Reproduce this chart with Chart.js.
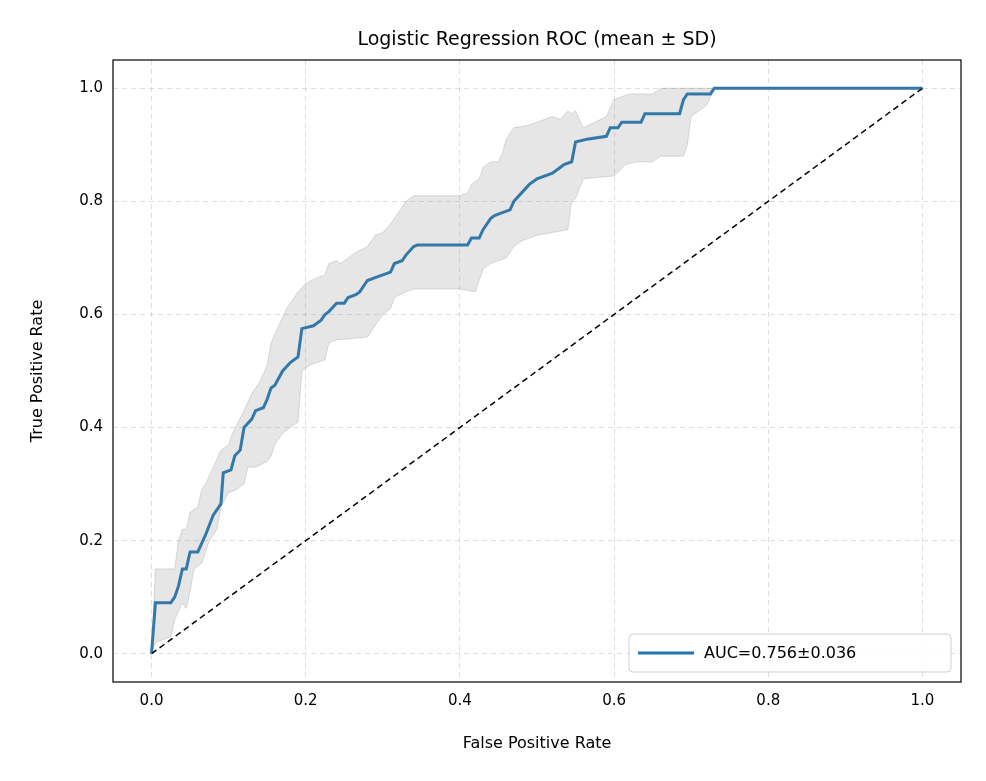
<!DOCTYPE html>
<html>
<head>
<meta charset="utf-8">
<script src="https://cdn.jsdelivr.net/npm/chart.js@4"></script>
<style>
  body { margin: 0; background: #fff; }
  #wrap { width: 986px; height: 781px; }
</style>
</head>
<body>
<div id="wrap"><canvas id="roc"></canvas></div>
<script>
'use strict';

const tickValues = [0, 0.2, 0.4, 0.6, 0.8, 1.0];
const legendLabel = 'AUC=0.756\u00b10.036';

const meanFpr = [0, 0.005, 0.025, 0.03, 0.035, 0.04, 0.045, 0.05, 0.06, 0.07, 0.08, 0.09, 0.093, 0.103, 0.108, 0.115, 0.12, 0.13, 0.135, 0.145, 0.15, 0.155, 0.16, 0.17, 0.18, 0.19, 0.195, 0.21, 0.22, 0.225, 0.23, 0.24, 0.25, 0.255, 0.265, 0.27, 0.28, 0.29, 0.31, 0.315, 0.325, 0.33, 0.34, 0.345, 0.41, 0.415, 0.425, 0.43, 0.435, 0.44, 0.445, 0.455, 0.465, 0.47, 0.48, 0.49, 0.5, 0.52, 0.53, 0.535, 0.545, 0.55, 0.565, 0.59, 0.595, 0.605, 0.61, 0.635, 0.64, 0.685, 0.69, 0.695, 0.725, 0.73, 1];
const meanTpr = [0, 0.09, 0.09, 0.1, 0.12, 0.15, 0.15, 0.18, 0.18, 0.21, 0.245, 0.265, 0.32, 0.325, 0.35, 0.36, 0.4, 0.415, 0.43, 0.435, 0.45, 0.47, 0.475, 0.5, 0.515, 0.525, 0.575, 0.58, 0.59, 0.6, 0.605, 0.62, 0.62, 0.63, 0.635, 0.64, 0.66, 0.665, 0.675, 0.69, 0.695, 0.705, 0.72, 0.723, 0.723, 0.735, 0.735, 0.75, 0.76, 0.77, 0.775, 0.78, 0.785, 0.8, 0.815, 0.83, 0.84, 0.85, 0.86, 0.865, 0.87, 0.905, 0.91, 0.915, 0.93, 0.93, 0.94, 0.94, 0.955, 0.955, 0.98, 0.99, 0.99, 1.0, 1];

const upperFpr = [0, 0.005, 0.03, 0.035, 0.04, 0.045, 0.05, 0.06, 0.065, 0.07, 0.08, 0.09, 0.1, 0.105, 0.12, 0.13, 0.14, 0.15, 0.155, 0.165, 0.175, 0.19, 0.2, 0.215, 0.225, 0.23, 0.24, 0.245, 0.255, 0.265, 0.28, 0.29, 0.3, 0.31, 0.32, 0.33, 0.34, 0.4, 0.41, 0.415, 0.425, 0.43, 0.435, 0.44, 0.45, 0.455, 0.46, 0.47, 0.49, 0.52, 0.53, 0.54, 0.545, 0.55, 0.56, 0.59, 0.6, 0.62, 0.65, 0.66, 1];
const upperTpr = [0, 0.15, 0.15, 0.2, 0.22, 0.22, 0.25, 0.26, 0.29, 0.3, 0.33, 0.36, 0.37, 0.39, 0.43, 0.46, 0.48, 0.51, 0.55, 0.58, 0.61, 0.64, 0.655, 0.665, 0.67, 0.69, 0.695, 0.69, 0.7, 0.71, 0.72, 0.74, 0.745, 0.76, 0.78, 0.8, 0.81, 0.81, 0.815, 0.83, 0.84, 0.86, 0.865, 0.87, 0.87, 0.885, 0.91, 0.93, 0.935, 0.95, 0.945, 0.96, 0.955, 0.96, 0.93, 0.95, 0.98, 0.99, 0.99, 1.0, 1];

const lowerFpr = [0, 0.005, 0.025, 0.03, 0.04, 0.045, 0.05, 0.055, 0.065, 0.075, 0.085, 0.09, 0.1, 0.11, 0.12, 0.125, 0.135, 0.15, 0.155, 0.16, 0.17, 0.18, 0.19, 0.195, 0.205, 0.225, 0.23, 0.24, 0.28, 0.29, 0.3, 0.31, 0.315, 0.33, 0.34, 0.4, 0.42, 0.425, 0.43, 0.44, 0.46, 0.47, 0.48, 0.5, 0.54, 0.545, 0.55, 0.56, 0.6, 0.615, 0.63, 0.65, 0.66, 0.69, 0.695, 0.7, 0.72, 0.73, 1];
const lowerTpr = [0, 0.02, 0.03, 0.06, 0.09, 0.08, 0.11, 0.15, 0.16, 0.2, 0.22, 0.26, 0.285, 0.29, 0.3, 0.33, 0.33, 0.34, 0.35, 0.37, 0.39, 0.4, 0.41, 0.5, 0.51, 0.52, 0.55, 0.555, 0.56, 0.58, 0.6, 0.61, 0.63, 0.64, 0.645, 0.645, 0.64, 0.66, 0.68, 0.69, 0.7, 0.72, 0.73, 0.74, 0.75, 0.8, 0.805, 0.84, 0.845, 0.865, 0.87, 0.87, 0.88, 0.88, 0.9, 0.95, 0.97, 1.0, 1];

function toPoints(xs, ys) {
  return xs.map((x, i) => ({ x: x, y: ys[i] }));
}

// band polygon: upper edge forward, lower edge back
const bandPoints = toPoints(upperFpr, upperTpr).concat(toPoints(lowerFpr, lowerTpr).reverse());

const font = 'DejaVu Sans';

const frameAndText = {
  id: 'frameAndText',
  afterDraw(chart) {
    const { ctx, chartArea: a } = chart;
    ctx.save();
    ctx.strokeStyle = '#000';
    ctx.lineWidth = 1.2;
    ctx.strokeRect(a.left, a.top, a.right - a.left, a.bottom - a.top);

    // legend
    ctx.font = '16px ' + font;
    const w = 322, h = 38;
    const x = a.right - 10 - w, y = a.bottom - 10 - h;
    ctx.fillStyle = 'rgba(255,255,255,0.8)';
    ctx.strokeStyle = '#d0d0d0';
    ctx.lineWidth = 1;
    ctx.beginPath();
    ctx.roundRect(x, y, w, h, 4);
    ctx.fill();
    ctx.stroke();
    ctx.strokeStyle = '#1f77b4';
    ctx.lineWidth = 3;
    ctx.beginPath();
    ctx.moveTo(x + 9, y + h / 2);
    ctx.lineTo(x + 65, y + h / 2);
    ctx.stroke();
    ctx.fillStyle = '#000';
    ctx.textBaseline = 'middle';
    ctx.fillText(legendLabel, x + 75, y + h / 2 + 1);

    // title and axis titles
    ctx.textAlign = 'center';
    ctx.textBaseline = 'alphabetic';
    ctx.font = '19px ' + font;
    ctx.fillText('Logistic Regression ROC (mean \u00b1 SD)', (a.left + a.right) / 2, 45);
    ctx.font = '16px ' + font;
    ctx.fillText('False Positive Rate', (a.left + a.right) / 2, 748);
    ctx.translate(42, (a.top + a.bottom) / 2);
    ctx.rotate(-Math.PI / 2);
    ctx.fillText('True Positive Rate', 0, 0);
    ctx.restore();
  }
};

function axis(isX) {
  return {
    type: 'linear',
    min: -0.05,
    max: 1.05,
    afterBuildTicks: s => { s.ticks = tickValues.map(v => ({ value: v })); },
    afterFit: s => { if (isX) s.height = 99; else s.width = 113; },
    border: { display: false, dash: [5, 4] },
    grid: { color: 'rgba(0,0,0,0.13)', drawTicks: false },
    ticks: { color: '#000', font: { family: font, size: 15 }, padding: 10,
             callback: v => v.toFixed(1) }
  };
}

new Chart(document.getElementById('roc'), {
  type: 'scatter',
  data: {
    datasets: [
      {
        data: bandPoints,
        showLine: true,
        fill: 'shape',
        backgroundColor: 'rgba(128,128,128,0.2)',
        borderColor: 'rgba(128,128,128,0.25)',
        borderWidth: 1,
        pointRadius: 0
      },
      {
        data: [{ x: 0, y: 0 }, { x: 1, y: 1 }],
        showLine: true,
        borderColor: '#000',
        borderWidth: 1.5,
        borderDash: [6, 4],
        pointRadius: 0
      },
      {
        data: toPoints(meanFpr, meanTpr),
        showLine: true,
        borderColor: '#1f77b4',
        borderWidth: 3,
        pointRadius: 0
      }
    ]
  },
  options: {
    responsive: true,
    maintainAspectRatio: false,
    animation: false,
    layout: { padding: { top: 60, right: 25, left: 0, bottom: 0 } },
    plugins: { legend: { display: false }, tooltip: { enabled: false } },
    scales: {
      x: axis(true),
      y: axis(false)
    }
  },
  plugins: [frameAndText]
});
</script>
</body>
</html>
